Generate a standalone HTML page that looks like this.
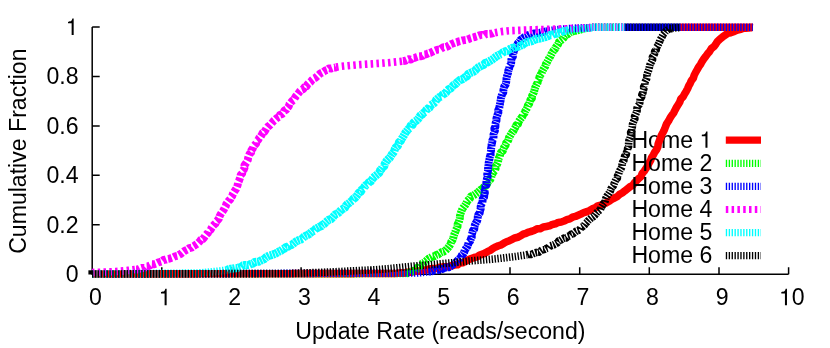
<!DOCTYPE html><html><head><meta charset="utf-8"><style>html,body{margin:0;padding:0;background:#fff}svg{display:block;will-change:transform}text{font-family:"Liberation Sans",sans-serif;font-size:23.1px;fill:#000}</style></head><body>
<svg width="830" height="348" viewBox="0 0 830 348">
<rect width="830" height="348" fill="#fff"/>
<path d="M92.2 27.0 V274.2 H788.6 M161.8 274.2 v-7 M231.5 274.2 v-7 M301.1 274.2 v-7 M370.8 274.2 v-7 M440.4 274.2 v-7 M510.0 274.2 v-7 M579.7 274.2 v-7 M649.3 274.2 v-7 M719.0 274.2 v-7 M788.6 274.2 v-7 M92.2 274.2 h7.5 M92.2 224.8 h7.5 M92.2 175.3 h7.5 M92.2 125.9 h7.5 M92.2 76.4 h7.5 M92.2 27.0 h7.5" fill="none" stroke="#000" stroke-width="1.5"/>
<text x="95.4" y="305.2" text-anchor="middle">0</text>
<path d="M259 0 L259 505 L102 505 L102 568 C239 586 262 604 291 709 L347 709 L347 0 Z" fill="#000" transform="translate(158.62 305.20) scale(0.02310 -0.02310)"/>
<text x="234.7" y="305.2" text-anchor="middle">2</text>
<text x="304.3" y="305.2" text-anchor="middle">3</text>
<text x="374.0" y="305.2" text-anchor="middle">4</text>
<text x="443.6" y="305.2" text-anchor="middle">5</text>
<text x="513.2" y="305.2" text-anchor="middle">6</text>
<text x="582.9" y="305.2" text-anchor="middle">7</text>
<text x="652.5" y="305.2" text-anchor="middle">8</text>
<text x="722.2" y="305.2" text-anchor="middle">9</text>
<path d="M259 0 L259 505 L102 505 L102 568 C239 586 262 604 291 709 L347 709 L347 0 Z" fill="#000" transform="translate(778.96 305.20) scale(0.02310 -0.02310)"/>
<text x="791.80" y="305.2">0</text>
<text x="78.5" y="282.2" text-anchor="end">0</text>
<text x="78.5" y="232.8" text-anchor="end">0.2</text>
<text x="78.5" y="183.3" text-anchor="end">0.4</text>
<text x="78.5" y="133.9" text-anchor="end">0.6</text>
<text x="78.5" y="84.4" text-anchor="end">0.8</text>
<path d="M259 0 L259 505 L102 505 L102 568 C239 586 262 604 291 709 L347 709 L347 0 Z" fill="#000" transform="translate(65.66 35.00) scale(0.02310 -0.02310)"/>
<text x="440.4" y="339.4" text-anchor="middle">Update Rate (reads/second)</text>
<text transform="translate(26.2 151.2) rotate(-90)" text-anchor="middle">Cumulative Fraction</text>
<text x="693.03" y="147.8" text-anchor="end">Home</text><path d="M259 0 L259 505 L102 505 L102 568 C239 586 262 604 291 709 L347 709 L347 0 Z" fill="#000" transform="translate(699.46 147.80) scale(0.02310 -0.02310)"/>
<path d="M92.00 274.00 L95.00 274.00 L98.00 273.99 L101.00 273.99 L104.00 273.98 L107.00 273.98 L110.00 273.97 L113.00 273.97 L116.00 273.96 L119.00 273.96 L122.00 273.95 L125.00 273.95 L128.00 273.94 L131.00 273.94 L134.00 273.93 L137.00 273.93 L140.00 273.92 L143.00 273.92 L146.00 273.91 L149.00 273.91 L152.00 273.90 L155.00 273.90 L158.00 273.89 L161.00 273.89 L164.00 273.88 L167.00 273.88 L170.00 273.87 L173.00 273.87 L176.00 273.86 L179.00 273.86 L182.00 273.85 L185.00 273.85 L188.00 273.84 L191.00 273.84 L194.00 273.83 L197.00 273.83 L200.00 273.82 L203.00 273.82 L206.00 273.81 L209.00 273.81 L212.00 273.80 L215.00 273.80 L218.00 273.79 L221.00 273.79 L224.00 273.79 L227.00 273.78 L230.00 273.78 L233.00 273.77 L236.00 273.77 L239.00 273.76 L242.00 273.76 L245.00 273.75 L248.00 273.75 L251.00 273.74 L254.00 273.74 L257.00 273.73 L260.00 273.73 L263.00 273.72 L266.00 273.72 L269.00 273.71 L272.00 273.71 L275.00 273.70 L278.00 273.70 L281.00 273.69 L284.00 273.69 L287.00 273.68 L290.00 273.68 L293.00 273.67 L296.00 273.67 L299.00 273.66 L302.00 273.66 L305.00 273.65 L308.00 273.65 L311.00 273.64 L314.00 273.64 L317.00 273.63 L320.00 273.63 L323.00 273.62 L326.00 273.62 L329.00 273.61 L332.00 273.61 L335.00 273.60 L338.00 273.60 L341.00 273.59 L344.00 273.59 L347.00 273.59 L350.00 273.58 L353.00 273.58 L356.00 273.57 L359.00 273.57 L362.00 273.56 L365.00 273.56 L368.00 273.55 L371.00 273.55 L374.00 273.54 L377.00 273.54 L380.00 273.53 L383.00 273.53 L386.00 273.52 L389.00 273.52 L392.00 273.51 L395.00 273.50 L397.99 273.23 L400.97 272.88 L404.02 273.12 L406.95 272.20 L410.00 272.28 L412.98 271.74 L415.94 271.05 L418.99 271.08 L421.89 270.17 L424.92 270.09 L427.82 269.24 L430.79 268.76 L433.80 268.59 L436.83 268.49 L439.67 267.30 L442.65 266.90 L445.68 266.80 L448.69 266.61 L451.59 265.75 L454.49 264.97 L457.53 264.78 L460.10 262.99 L463.19 262.69 L465.75 261.01 L468.47 259.72 L471.24 258.53 L474.09 257.55 L477.07 256.86 L479.58 255.09 L482.48 254.21 L485.22 252.97 L487.80 251.39 L490.56 250.17 L493.01 248.36 L495.69 246.99 L498.44 245.74 L501.33 244.79 L503.90 243.20 L506.56 241.77 L509.41 240.72 L512.11 239.34 L514.83 237.97 L517.80 237.20 L520.54 235.89 L523.14 234.24 L526.05 233.32 L528.82 232.08 L531.79 231.30 L534.63 230.15 L537.44 228.80 L540.63 228.61 L543.40 226.94 L546.48 226.39 L549.57 225.87 L552.40 224.44 L555.45 223.85 L558.21 222.46 L561.29 222.01 L564.16 220.99 L566.90 219.69 L569.83 218.84 L572.43 217.19 L575.39 216.41 L578.17 215.16 L580.98 213.96 L583.76 212.63 L586.75 211.74 L589.62 210.58 L592.27 208.90 L595.16 207.80 L597.71 205.95 L600.77 205.22 L603.51 203.83 L606.43 202.80 L609.12 201.29 L611.61 199.41 L614.37 198.00 L617.19 196.64 L619.49 194.41 L622.33 192.98 L624.74 190.90 L627.25 188.95 L629.72 186.95 L632.59 185.43 L634.43 182.82 L636.65 180.69 L638.77 178.48 L641.07 176.41 L642.24 173.48 L644.25 171.14 L645.92 168.55 L647.69 165.97 L649.08 163.18 L650.60 160.49 L651.61 157.53 L653.27 154.96 L654.68 152.27 L656.51 149.76 L657.83 146.95 L658.20 143.75 L659.31 140.84 L660.45 137.94 L661.61 135.03 L663.08 132.25 L664.48 129.44 L665.57 126.47 L666.75 123.54 L668.55 120.92 L669.99 118.13 L671.70 115.49 L673.60 112.98 L674.98 110.16 L676.44 107.38 L678.12 104.72 L679.76 102.03 L680.80 99.00 L683.09 96.73 L684.52 94.00 L686.12 91.41 L687.56 88.76 L688.71 85.96 L690.20 83.34 L691.41 80.54 L693.32 78.10 L694.23 75.11 L695.63 72.34 L697.21 69.66 L698.73 66.92 L700.53 64.35 L702.03 61.57 L703.79 58.95 L705.74 56.45 L707.56 53.83 L709.66 51.40 L711.32 48.61 L714.00 46.59 L715.88 43.94 L717.71 41.19 L720.08 38.94 L722.60 36.95 L725.15 35.13 L727.69 33.32 L730.81 32.71 L733.73 31.75 L736.54 30.28 L739.60 29.54 L742.60 28.55 L745.67 28.08 L748.74 27.95 L751.77 27.57 L752.80 27.70" fill="none" stroke="#ff0000" stroke-width="7.6" stroke-linejoin="round"/>
<path d="M725.8 140.2 H761.0" stroke="#ff0000" stroke-width="7.2" fill="none"/>
<text x="712.3" y="170.9" text-anchor="end">Home 2</text>
<path d="M92.00 274.00 L96.00 273.99 L100.00 273.99 L104.00 273.98 L108.00 273.97 L112.00 273.97 L116.00 273.96 L120.00 273.96 L124.00 273.95 L128.00 273.94 L132.00 273.94 L136.00 273.93 L140.00 273.92 L144.00 273.92 L148.00 273.91 L152.00 273.91 L156.00 273.90 L160.00 273.89 L164.00 273.89 L168.00 273.88 L172.00 273.87 L176.00 273.87 L180.00 273.86 L184.00 273.85 L188.00 273.85 L192.00 273.84 L196.00 273.84 L200.00 273.83 L204.00 273.82 L208.00 273.82 L212.00 273.81 L216.00 273.80 L220.00 273.80 L224.00 273.79 L228.00 273.79 L232.00 273.78 L236.00 273.77 L240.00 273.77 L244.00 273.76 L248.00 273.75 L252.00 273.75 L256.00 273.74 L260.00 273.74 L264.00 273.73 L268.00 273.72 L272.00 273.72 L276.00 273.71 L280.00 273.70 L284.00 273.70 L288.00 273.69 L292.00 273.68 L296.00 273.68 L300.00 273.67 L304.00 273.67 L308.00 273.66 L312.00 273.65 L316.00 273.65 L320.00 273.64 L324.00 273.63 L328.00 273.63 L332.00 273.62 L336.00 273.62 L340.00 273.61 L344.00 273.60 L348.00 273.60 L352.00 273.59 L356.00 273.58 L360.00 273.58 L364.00 273.57 L368.00 273.56 L372.00 273.56 L376.00 273.55 L380.00 273.55 L384.00 273.54 L388.00 273.53 L392.00 273.53 L396.00 273.52 L400.00 273.51 L404.00 273.51 L406.95 273.23" fill="none" stroke="#00ff00" stroke-width="7.6" stroke-linejoin="round" stroke-dasharray="1.35 1.55"/>
<path d="M406.95 273.23 L408.98 273.16 L410.66 271.86 L412.43 270.95 L414.74 270.84 L416.19 269.19 L417.53 267.50 L419.35 266.36 L420.47 264.50 L422.36 263.50 L424.19 262.53 L425.67 261.20 L427.22 259.94 L428.73 258.52 L430.59 257.69 L432.29 256.55 L434.41 256.22 L436.15 255.08 L438.16 254.46 L439.85 253.14 L441.60 252.07 L443.68 251.55 L445.46 250.49 L446.90 249.03 L448.27 247.49 L449.53 245.84 L450.60 244.04 L451.19 241.95 L452.48 240.23 L453.22 238.23 L453.68 236.14 L454.36 234.14 L455.24 232.21 L455.79 230.21 L456.78 228.35 L457.58 226.45 L457.58 224.32 L458.65 222.49 L459.29 220.51 L459.85 218.51 L459.85 216.32 L460.33 214.26 L461.03 212.27 L461.77 210.30 L462.63 208.39 L463.98 206.72 L465.25 205.04 L466.28 203.22 L467.12 201.26 L468.53 199.76 L470.00 198.37 L470.90 196.41 L472.85 195.63 L474.62 194.70 L476.22 193.51 L477.89 192.39 L479.38 191.01 L480.79 189.57 L482.73 188.79 L483.80 187.03 L485.51 185.90 L486.93 184.47 L487.61 182.48 L488.72 180.81 L490.31 179.44 L491.18 177.60 L491.65 175.55 L492.55 173.74 L493.44 171.91 L495.02 170.34 L495.67 168.35 L495.66 166.11 L497.04 164.35 L497.89 162.42 L498.29 160.33 L498.75 158.26 L499.76 156.41 L500.18 154.31 L500.96 152.35 L502.82 150.93 L503.41 148.89 L504.22 146.97 L505.57 145.32 L506.05 143.24 L507.47 141.65 L508.45 139.84 L508.90 137.71 L510.00 135.97 L511.10 134.22 L512.11 132.42 L513.50 130.84 L514.25 128.88 L515.47 127.19 L516.26 125.25 L518.07 123.90 L518.61 121.80 L519.78 120.07 L520.97 118.35 L522.35 116.74 L522.96 114.67 L524.50 113.17 L525.18 111.14 L526.28 109.37 L527.33 107.56 L527.83 105.48 L529.17 103.83 L529.78 101.82 L530.40 99.83 L531.96 98.18 L531.99 95.95 L532.97 94.05 L533.91 92.16 L534.44 90.13 L534.92 88.11 L535.86 86.27 L536.65 84.40 L537.66 82.63 L537.76 80.49 L539.01 78.84 L539.48 76.86 L540.31 75.02 L541.64 73.39 L542.23 71.42 L543.18 69.58 L544.30 67.82 L545.41 66.04 L545.94 63.93 L547.11 62.14 L548.02 60.21 L549.05 58.34 L550.27 56.56 L551.11 54.54 L552.27 52.71 L553.31 50.83 L554.86 49.28 L555.74 47.36 L557.01 45.73 L558.23 44.10 L558.90 42.04 L560.50 40.69 L562.23 39.47 L563.65 37.95 L564.81 36.01 L566.55 34.75 L568.52 33.87 L570.14 32.44 L572.11 31.68 L573.97 30.73 L576.13 30.69 L578.11 30.23 L580.10 29.86 L581.93 28.66 L583.00 28.86" fill="none" stroke="#00ff00" stroke-width="7.9" stroke-linejoin="round" stroke-dasharray="2.0 0.9"/>
<path d="M583.00 28.86 L587.00 28.18 L591.00 27.63 L592.00 27.50" fill="none" stroke="#00ff00" stroke-width="7.6" stroke-linejoin="round" stroke-dasharray="1.35 1.55"/>
<path d="M592 27.3 H625.0" stroke="#00ff00" stroke-width="7.6" fill="none" stroke-dasharray="1.35 1.55" stroke-dashoffset="-0.00"/>
<path d="M725.8 163.3 H761.0" stroke="#00ff00" stroke-width="7.2" fill="none" stroke-dasharray="1.35 1.55"/>
<text x="712.3" y="194.0" text-anchor="end">Home 3</text>
<path d="M625 27.3 H680" stroke="#000040" stroke-width="7.6" fill="none"/>
<path d="M680 27.3 H752.8" stroke="#ff0000" stroke-width="7.6" fill="none"/>
<path d="M92.00 274.00 L96.00 273.99 L100.00 273.98 L104.00 273.96 L108.00 273.95 L112.00 273.94 L116.00 273.93 L120.00 273.91 L124.00 273.90 L128.00 273.89 L132.00 273.88 L136.00 273.87 L140.00 273.85 L144.00 273.84 L148.00 273.83 L152.00 273.82 L156.00 273.80 L160.00 273.79 L164.00 273.78 L168.00 273.77 L172.00 273.76 L176.00 273.74 L180.00 273.73 L184.00 273.72 L188.00 273.71 L192.00 273.69 L196.00 273.68 L200.00 273.67 L204.00 273.66 L208.00 273.65 L212.00 273.63 L216.00 273.62 L220.00 273.61 L224.00 273.60 L228.00 273.58 L232.00 273.57 L236.00 273.56 L240.00 273.55 L244.00 273.54 L248.00 273.52 L252.00 273.51 L256.00 273.50 L260.00 273.49 L264.00 273.47 L268.00 273.46 L272.00 273.45 L276.00 273.44 L280.00 273.43 L284.00 273.41 L288.00 273.40 L292.00 273.39 L296.00 273.38 L300.00 273.36 L304.00 273.35 L308.00 273.34 L312.00 273.33 L316.00 273.32 L320.00 273.30 L324.00 273.29 L328.00 273.28 L332.00 273.27 L336.00 273.25 L340.00 273.24 L344.00 273.23 L348.00 273.22 L352.00 273.21 L356.00 273.19 L360.00 273.18 L364.00 273.17 L368.00 273.16 L372.00 273.14 L376.00 273.13 L380.00 273.12 L384.00 273.11 L388.00 273.10 L392.00 273.08 L396.00 273.07 L400.00 273.06 L404.00 273.05 L408.00 273.03 L412.00 273.02 L416.01 272.97 L420.07 272.73 L424.18 272.29 L428.32 271.64" fill="none" stroke="#0000ff" stroke-width="7.6" stroke-linejoin="round" stroke-dasharray="1.35 1.55"/>
<path d="M428.32 271.64 L430.43 271.50 L432.47 271.03 L434.38 270.04 L436.59 270.38 L438.62 269.99 L440.43 268.69 L442.62 268.97 L444.47 267.88 L446.50 267.47 L448.62 267.38 L450.43 266.46 L451.86 264.90 L453.67 264.13 L455.30 263.02 L456.66 261.56 L457.97 260.02 L459.44 258.64 L461.07 257.37 L461.67 255.29 L463.30 253.94 L464.26 252.11 L464.84 250.07 L466.08 248.36 L467.31 246.62 L468.11 244.67 L468.52 242.56 L470.27 241.02 L470.86 238.98 L471.79 237.07 L471.59 234.76 L472.42 232.82 L472.85 230.74 L474.29 228.99 L474.43 226.81 L474.95 224.75 L475.92 222.85 L477.10 221.01 L477.67 218.98 L477.75 216.78 L478.28 214.74 L479.72 212.99 L479.97 210.87 L480.69 208.90 L480.62 206.72 L481.13 204.70 L482.33 202.88 L482.58 200.80 L482.71 198.70 L484.13 196.92 L484.27 194.84 L484.89 192.87 L484.54 190.71 L485.76 188.86 L485.26 186.71 L486.45 184.85 L486.32 182.77 L486.49 180.75 L487.00 178.78 L487.68 176.83 L487.23 174.72 L487.35 172.70 L488.06 170.75 L488.02 168.70 L488.16 166.68 L488.51 164.68 L488.68 162.66 L489.14 160.68 L489.57 158.69 L489.87 156.68 L490.67 154.75 L490.49 152.67 L491.04 150.70 L491.03 148.64 L491.56 146.66 L491.56 144.59 L492.17 142.63 L492.27 140.58 L493.40 138.71 L493.54 136.68 L493.49 134.61 L494.12 132.65 L494.94 130.72 L494.35 128.58 L495.43 126.70 L495.33 124.62 L495.75 122.61 L496.49 120.65 L496.42 118.52 L496.97 116.49 L497.61 114.48 L498.40 112.49 L498.18 110.27 L499.18 108.33 L499.53 106.26 L499.96 104.22 L500.23 102.15 L500.69 100.14 L500.92 98.08 L501.55 96.15 L502.05 94.18 L503.31 92.44 L503.35 90.34 L503.80 88.35 L504.24 86.37 L505.57 84.60 L506.12 82.62 L506.41 80.57 L506.49 78.47 L506.94 76.45 L507.49 74.46 L508.17 72.50 L508.35 70.41 L509.15 68.49 L509.46 66.43 L510.71 64.61 L511.23 62.61 L511.29 60.50 L511.53 58.41 L512.89 56.67 L512.84 54.48 L513.57 52.54 L513.92 50.46 L515.07 48.67 L516.04 46.84 L517.08 45.05 L517.96 43.13 L519.52 41.68 L520.58 39.73 L522.42 38.58 L524.13 37.25 L526.14 36.51 L527.88 35.25 L529.84 34.46 L531.94 34.16 L533.93 33.55 L536.02 33.42 L538.01 32.89 L540.06 32.69 L542.03 32.18 L544.05 31.84 L546.00 31.23" fill="none" stroke="#0000ff" stroke-width="7.9" stroke-linejoin="round" stroke-dasharray="2.2 0.7"/>
<path d="M546.00 31.23 L550.00 30.57 L554.00 30.03 L558.00 29.61 L562.00 29.20 L566.00 28.82 L570.00 28.50 L574.00 28.25 L578.00 28.07 L582.00 27.91 L586.00 27.75 L590.00 27.58 L592.00 27.50" fill="none" stroke="#0000ff" stroke-width="7.6" stroke-linejoin="round" stroke-dasharray="1.35 1.55"/>
<path d="M592 27.3 H752.8" stroke="#0000ff" stroke-width="7.6" fill="none" stroke-dasharray="1.35 1.55" stroke-dashoffset="-0.35"/>
<path d="M725.8 186.4 H761.0" stroke="#0000ff" stroke-width="7.2" fill="none" stroke-dasharray="1.35 1.55"/>
<text x="712.3" y="217.1" text-anchor="end">Home 4</text>
<path d="M92.00 272.50 L96.00 272.34 L100.00 272.19 L104.00 272.02 L108.00 271.85 L112.00 271.67 L116.00 271.46 L120.00 271.18 L124.00 270.82 L128.00 270.37 L132.00 269.91 L136.00 269.39" fill="none" stroke="#ff00ff" stroke-width="7.6" stroke-linejoin="round" stroke-dasharray="2.5 3.3"/>
<path d="M136.00 269.39 L138.08 269.43 L139.97 268.46 L141.95 267.87 L144.16 267.97 L145.87 266.42 L148.09 266.28 L150.05 265.46 L151.81 264.12 L154.08 264.21 L156.06 263.56 L157.91 262.57 L159.89 261.98 L161.85 261.37 L163.52 259.98 L165.59 259.68 L167.50 258.97 L169.55 258.62 L171.46 257.89 L173.39 257.22 L175.22 256.26 L177.24 255.80 L179.02 254.75 L180.86 253.87 L182.42 252.47 L184.08 251.27 L185.87 250.30 L187.74 249.42 L189.33 248.09 L191.50 247.68 L193.08 246.33 L194.86 245.31 L196.55 244.16 L198.22 243.00 L199.64 241.56 L200.76 239.83 L202.79 239.05 L204.12 237.53 L205.22 235.82 L206.55 234.32 L207.96 232.88 L208.77 230.93 L210.63 229.89 L211.52 228.01 L212.60 226.33 L213.96 224.86 L215.53 223.51 L216.16 221.52 L217.71 220.12 L218.95 218.50 L219.49 216.48 L220.39 214.67 L221.48 212.97 L222.68 211.33 L223.78 209.64 L224.67 207.83 L225.75 206.13 L226.30 204.10 L227.46 202.45 L228.66 200.84 L230.22 199.47 L230.93 197.53 L232.27 196.01 L232.78 193.97 L233.79 192.25 L234.90 190.55 L236.15 188.87 L236.97 186.97 L237.68 185.02 L238.00 182.91 L238.95 181.04 L239.61 179.07 L240.32 177.11 L240.69 175.02 L242.23 173.38 L242.27 171.17 L243.83 169.56 L244.57 167.62 L244.44 165.32 L245.70 163.59 L246.87 161.84 L247.83 159.99 L248.12 157.86 L248.75 155.88 L249.55 153.96 L251.18 152.45 L251.39 150.25 L252.72 148.62 L253.32 146.59 L254.73 145.02 L256.19 143.50 L256.48 141.26 L258.22 139.92 L259.08 138.03 L260.61 136.61 L261.69 134.86 L262.59 132.93 L264.49 131.84 L265.54 130.01 L266.56 128.13 L267.93 126.57 L269.74 125.41 L271.14 123.88 L272.49 122.28 L273.85 120.69 L275.53 119.41 L277.05 117.97 L279.00 117.00 L279.94 114.91 L282.02 114.08 L283.54 112.66 L284.32 110.61 L286.30 109.62 L287.37 107.88 L288.74 106.37 L289.39 104.32 L290.68 102.74 L291.96 101.12 L293.77 99.92 L294.74 98.03 L295.88 96.27 L297.30 94.74 L298.56 93.08 L299.81 91.39 L301.31 89.94 L303.35 89.07 L304.46 87.22 L306.48 86.35 L307.50 84.39 L309.03 82.97 L310.74 81.72 L312.00 80.01 L313.66 78.68 L315.62 77.73 L317.12 76.31 L318.64 74.95 L320.12 73.55 L321.95 72.69 L323.69 71.74 L325.29 70.47 L327.22 69.82 L328.87 68.39 L331.07 68.49 L332.99 67.70 L335.06 67.59 L336.00 67.13" fill="none" stroke="#ff00ff" stroke-width="7.9" stroke-linejoin="round" stroke-dasharray="3.9 1.9"/>
<path d="M336.00 67.13 L340.00 66.51 L344.00 66.09 L348.00 65.69 L352.00 65.31 L356.00 64.96 L360.00 64.66 L364.00 64.39 L368.00 64.12 L372.00 63.86 L376.00 63.59 L380.00 63.32 L384.00 63.01 L388.00 62.67 L392.00 62.28 L396.00 61.88 L400.00 61.47 L402.97 61.02" fill="none" stroke="#ff00ff" stroke-width="7.6" stroke-linejoin="round" stroke-dasharray="2.5 3.3"/>
<path d="M402.97 61.02 L404.97 60.80 L406.84 59.98 L408.70 59.22 L410.91 59.58 L412.57 58.12 L414.61 57.87 L416.49 57.12 L418.39 56.45 L420.46 56.30 L422.47 55.93 L424.15 54.56 L426.21 54.34 L428.00 53.31 L430.02 52.90 L431.88 52.02 L433.71 51.06 L435.63 50.30 L437.57 49.58 L439.78 49.52 L441.54 48.33 L443.35 47.28 L445.55 47.21 L447.51 46.53 L449.21 45.20 L451.01 44.13 L452.96 43.47 L454.85 42.67 L456.87 42.27 L458.71 41.37 L460.69 40.93 L462.62 40.37 L464.64 40.12 L466.66 39.88 L468.54 39.15 L470.36 38.22 L472.28 37.64 L474.24 37.18 L476.13 36.47 L478.06 35.91 L479.95 35.13 L481.98 34.90 L484.11 35.23 L485.92 33.93 L488.00 33.98 L490.03 33.76 L492.07 33.65 L493.94 32.59 L495.00 32.71" fill="none" stroke="#ff00ff" stroke-width="7.9" stroke-linejoin="round" stroke-dasharray="3.9 1.9"/>
<path d="M495.00 32.71 L499.00 31.99 L503.00 31.38 L507.00 30.94 L511.00 30.67 L515.00 30.51 L519.00 30.35 L523.00 30.19 L527.00 30.03 L531.00 29.88 L535.00 29.75 L539.00 29.62 L543.00 29.49 L547.00 29.36 L551.00 29.23 L555.00 29.11 L559.00 28.98 L563.00 28.86 L567.00 28.74 L571.00 28.62 L575.00 28.50 L579.00 28.38 L583.00 28.23 L587.00 28.04 L591.00 27.77 L592.00 27.70" fill="none" stroke="#ff00ff" stroke-width="7.6" stroke-linejoin="round" stroke-dasharray="2.5 3.3"/>
<path d="M592 27.3 H625.0" stroke="#ff00ff" stroke-width="7.6" fill="none" stroke-dasharray="2.5 3.3" stroke-dashoffset="-0.00"/>
<path d="M725.8 209.5 H761.0" stroke="#ff00ff" stroke-width="7.2" fill="none" stroke-dasharray="2.5 3.3"/>
<text x="712.3" y="240.2" text-anchor="end">Home 5</text>
<path d="M92.00 274.00 L96.00 273.96 L100.00 273.93 L104.00 273.89 L108.00 273.85 L112.00 273.81 L116.00 273.78 L120.00 273.74 L124.00 273.70 L128.00 273.67 L132.00 273.63 L136.00 273.59 L140.00 273.55 L144.00 273.52 L148.00 273.48 L152.00 273.44 L156.00 273.41 L160.00 273.37 L164.00 273.33 L168.00 273.29 L172.00 273.26 L176.00 273.22 L180.00 273.18 L184.00 273.15 L188.00 273.11 L192.00 273.07 L196.00 273.01 L200.00 272.85 L204.00 272.58 L208.00 272.20 L212.00 271.79 L216.00 271.38 L220.00 270.91 L224.00 270.38 L227.00 269.89" fill="none" stroke="#00ffff" stroke-width="7.6" stroke-linejoin="round" stroke-dasharray="1.35 1.55"/>
<path d="M227.00 269.89 L228.95 269.27 L230.94 268.83 L232.98 268.55 L234.99 268.12 L237.12 268.15 L239.10 267.51 L241.10 267.02 L242.87 265.59 L244.87 265.08 L247.06 265.28 L249.11 264.96 L250.97 263.94 L252.97 263.44 L254.69 262.16 L256.75 261.83 L258.87 261.58 L260.71 260.62 L262.58 259.76 L264.48 258.99 L265.99 257.38 L267.78 256.35 L269.65 255.50 L271.68 254.98 L273.61 254.24 L275.58 253.60 L277.32 252.47 L279.11 251.47 L280.99 250.64 L282.64 249.37 L284.49 248.48 L286.00 246.99 L288.19 246.70 L289.68 245.17 L291.83 244.83 L293.47 243.57 L295.07 242.23 L296.76 241.06 L298.62 240.18 L300.61 239.54 L302.41 238.56 L303.81 236.95 L305.51 235.83 L307.49 235.14 L309.21 234.05 L310.76 232.72 L312.33 231.40 L314.23 230.57 L315.52 228.87 L317.37 227.96 L319.14 226.93 L321.12 226.21 L322.59 224.76 L324.41 223.81 L325.81 222.27 L327.30 220.87 L328.94 219.68 L331.03 219.10 L332.46 217.65 L333.77 216.06 L335.14 214.57 L337.03 213.73 L338.71 212.62 L340.08 211.13 L341.49 209.71 L343.30 208.74 L345.00 207.63 L345.97 205.73 L347.30 204.22 L349.00 203.11 L350.53 201.82 L352.19 200.64 L353.25 198.83 L355.15 197.81 L356.52 196.24 L357.72 194.50 L358.85 192.69 L360.86 191.65 L361.72 189.60 L363.54 188.45 L364.50 186.51 L365.93 185.03 L367.80 184.03 L368.91 182.24 L370.87 181.34 L371.98 179.56 L373.20 177.90 L374.68 176.50 L376.28 175.23 L377.87 173.95 L379.44 172.64 L380.05 170.53 L381.49 169.12 L382.51 167.38 L384.32 166.19 L384.67 164.01 L385.70 162.29 L386.82 160.62 L388.24 159.16 L389.81 157.79 L390.91 156.11 L391.88 154.35 L393.23 152.84 L394.28 151.13 L394.84 149.09 L395.82 147.33 L397.62 146.12 L398.56 144.33 L399.02 142.23 L400.71 140.94 L401.56 139.10 L402.66 137.42 L403.73 135.73 L404.70 133.96 L405.66 132.18 L407.04 130.69 L408.28 129.11 L410.02 127.93 L410.58 125.80 L412.60 124.89 L413.35 122.85 L414.89 121.52 L416.68 120.45 L418.11 119.02 L419.23 117.28 L420.36 115.55 L422.12 114.45 L423.47 112.94 L425.33 111.93 L426.19 109.93 L427.75 108.64 L429.59 107.62 L430.35 105.51 L432.09 104.38 L433.85 103.29 L435.29 101.86 L436.24 99.89 L437.75 98.51 L439.30 97.17 L441.46 96.53 L442.52 94.63 L444.41 93.69 L446.06 92.46 L447.19 90.65 L448.68 89.25 L450.71 88.47 L452.02 86.86 L453.35 85.25 L455.25 84.36 L456.59 82.77 L458.20 81.51 L459.68 80.07 L461.83 79.56 L463.60 78.53 L465.08 77.10 L466.95 76.21 L468.03 74.21 L469.83 73.24 L471.65 72.29 L473.62 71.56 L475.28 70.39 L476.61 68.73 L478.23 67.46 L480.05 66.50 L481.83 65.45 L483.83 64.76 L485.18 62.97 L487.31 62.48 L489.06 61.35 L490.90 60.36 L492.65 59.23 L494.35 58.00 L495.97 56.67 L497.75 55.58 L499.57 54.55 L501.60 53.91 L503.05 52.24 L504.96 51.41 L507.09 51.06 L508.75 49.70 L510.59 48.70 L512.50 47.90 L514.64 47.66 L516.47 46.65 L518.66 46.55 L520.54 45.68 L522.51 45.02 L524.14 43.51 L525.99 42.57 L527.92 41.85 L530.00 41.56 L532.00 41.09 L533.83 40.16 L535.68 39.31 L537.67 38.88 L539.69 38.48 L541.69 37.93 L543.71 37.41 L545.77 36.92 L547.76 36.14 L549.68 34.98 L551.98 35.15 L553.90 33.99 L556.06 33.69 L558.09 32.90 L560.28 32.71 L562.21 31.56 L564.31 31.10 L566.39 30.64 L567.48 30.71" fill="none" stroke="#00ffff" stroke-width="8.2" stroke-linejoin="round" stroke-dasharray="2.3 0.6"/>
<path d="M567.48 30.71 L571.61 30.03 L575.74 29.56 L579.85 29.13 L583.94 28.70 L588.00 28.26 L592.00 27.80" fill="none" stroke="#00ffff" stroke-width="7.6" stroke-linejoin="round" stroke-dasharray="1.35 1.55"/>
<path d="M592 27.3 H625.0" stroke="#00ffff" stroke-width="7.6" fill="none" stroke-dasharray="1.35 1.55" stroke-dashoffset="-0.70"/>
<path d="M725.8 232.6 H761.0" stroke="#00ffff" stroke-width="7.2" fill="none" stroke-dasharray="1.35 1.55"/>
<text x="712.3" y="263.3" text-anchor="end">Home 6</text>
<path d="M92.00 274.00 L96.00 273.99 L100.00 273.98 L104.00 273.97 L108.00 273.96 L112.00 273.95 L116.00 273.94 L120.00 273.93 L124.00 273.92 L128.00 273.91 L132.00 273.90 L136.00 273.89 L140.00 273.88 L144.00 273.87 L148.00 273.86 L152.00 273.85 L156.00 273.84 L160.00 273.83 L164.00 273.82 L168.00 273.81 L172.00 273.80 L176.00 273.79 L180.00 273.78 L184.00 273.77 L188.00 273.76 L192.00 273.75 L196.00 273.74 L200.00 273.73 L204.00 273.72 L208.00 273.71 L212.00 273.70 L216.00 273.69 L220.00 273.68 L224.00 273.67 L228.00 273.66 L232.00 273.65 L236.00 273.64 L240.00 273.63 L244.00 273.62 L248.00 273.61 L252.00 273.59 L256.00 273.58 L260.00 273.57 L264.00 273.56 L268.00 273.55 L272.00 273.54 L276.00 273.53 L280.00 273.52 L284.00 273.51 L288.00 273.48 L292.00 273.40 L296.00 273.27 L300.00 273.12 L304.00 272.97 L308.00 272.82 L312.00 272.67 L316.00 272.52 L320.00 272.37 L324.00 272.22 L328.00 272.06 L332.00 271.89 L336.00 271.69 L340.00 271.49 L344.00 271.29 L348.00 271.09 L352.00 270.89 L356.00 270.69 L360.00 270.49 L364.00 270.29 L368.00 270.09 L372.00 269.89 L376.00 269.68 L380.00 269.41 L384.00 269.08 L388.00 268.69 L392.00 268.29 L396.00 267.89 L400.00 267.48 L404.00 267.08 L408.00 266.68 L412.00 266.28 L416.00 265.88 L420.00 265.51 L424.00 265.16 L428.00 264.84 L432.00 264.52 L436.00 264.20 L440.00 263.87 L444.00 263.53 L448.00 263.16 L452.00 262.77 L456.00 262.37 L460.00 261.97 L464.00 261.57 L468.00 261.18 L472.00 260.82 L476.00 260.49 L480.00 260.17 L484.00 259.85 L488.00 259.52 L492.00 259.19 L496.00 258.80 L500.00 258.36 L504.00 257.88 L508.00 257.40 L512.00 256.92 L516.00 256.43 L520.00 255.88 L524.00 255.28 L527.00 254.79" fill="none" stroke="#000000" stroke-width="7.6" stroke-linejoin="round" stroke-dasharray="1.35 1.55"/>
<path d="M527.00 254.79 L528.93 254.08 L531.08 254.47 L532.97 253.67 L534.84 252.85 L536.79 252.29 L538.94 252.19 L540.63 250.90 L542.38 249.77 L544.52 249.50 L546.31 248.47 L548.32 247.90 L549.71 246.10 L551.71 245.52 L553.69 244.87 L555.48 243.88 L557.29 242.92 L558.57 241.07 L560.47 240.28 L562.14 239.09 L563.95 238.14 L566.14 237.88 L567.69 236.49 L569.65 235.82 L571.11 234.28 L573.14 233.75 L574.68 232.35 L576.29 231.12 L578.28 230.48 L580.03 229.43 L581.02 227.46 L582.89 226.56 L584.38 225.19 L585.50 223.44 L587.05 222.14 L588.34 220.54 L589.86 219.19 L591.38 217.84 L593.14 216.74 L594.70 215.41 L595.89 213.69 L597.19 212.13 L598.79 210.87 L600.37 209.53 L601.10 207.55 L602.29 205.88 L603.17 204.00 L604.67 202.39 L605.35 200.38 L605.82 198.25 L606.83 196.38 L608.11 194.66 L609.27 192.87 L610.39 191.06 L610.92 188.91 L612.02 187.10 L613.53 185.52 L614.20 183.52 L614.98 181.61 L615.88 179.76 L617.36 178.18 L617.51 176.03 L618.55 174.24 L619.11 172.24 L619.92 170.32 L621.13 168.52 L622.00 166.58 L622.07 164.33 L622.62 162.26 L623.90 160.48 L624.10 158.31 L624.63 156.28 L626.27 154.67 L626.43 152.56 L627.46 150.73 L627.57 148.63 L628.59 146.78 L628.58 144.68 L628.67 142.61 L628.92 140.57 L629.90 138.68 L630.41 136.70 L631.11 134.75 L630.63 132.57 L631.62 130.68 L631.78 128.62 L632.38 126.64 L632.48 124.54 L633.13 122.57 L633.90 120.63 L634.88 118.75 L634.56 116.50 L635.51 114.61 L636.40 112.70 L637.13 110.75 L636.93 108.50 L637.51 106.46 L639.07 104.75 L639.81 102.76 L640.00 100.60 L640.25 98.47 L641.81 96.80 L641.84 94.66 L642.93 92.86 L643.13 90.84 L643.85 88.95 L643.64 86.82 L644.83 85.06 L644.75 82.95 L645.48 81.06 L646.48 79.24 L647.02 77.29 L646.89 75.14 L647.48 73.20 L648.23 71.31 L648.93 69.39 L649.38 67.38 L649.73 65.32 L650.51 63.38 L651.68 61.56 L652.56 59.62 L652.38 57.30 L653.65 55.51 L654.60 53.62 L654.64 51.38 L656.26 49.80 L656.35 47.57 L657.69 45.90 L658.51 44.00 L659.47 42.15 L660.04 40.12 L661.08 38.30 L662.17 36.51 L663.09 34.58 L664.53 32.99 L665.77 31.36 L667.35 30.14 L668.90 28.78 L671.04 28.71 L672.00 28.35" fill="none" stroke="#000000" stroke-width="7.6" stroke-linejoin="round" stroke-dasharray="1.8 1.1"/>
<path d="M672.00 28.35 L676.00 27.93 L680.00 27.70" fill="none" stroke="#000000" stroke-width="7.6" stroke-linejoin="round" stroke-dasharray="1.35 1.55"/>
<path d="M725.8 255.7 H761.0" stroke="#000000" stroke-width="7.2" fill="none" stroke-dasharray="1.35 1.55"/>
<rect x="88.4" y="270.3" width="4" height="4.2" fill="#000"/>
</svg></body></html>
